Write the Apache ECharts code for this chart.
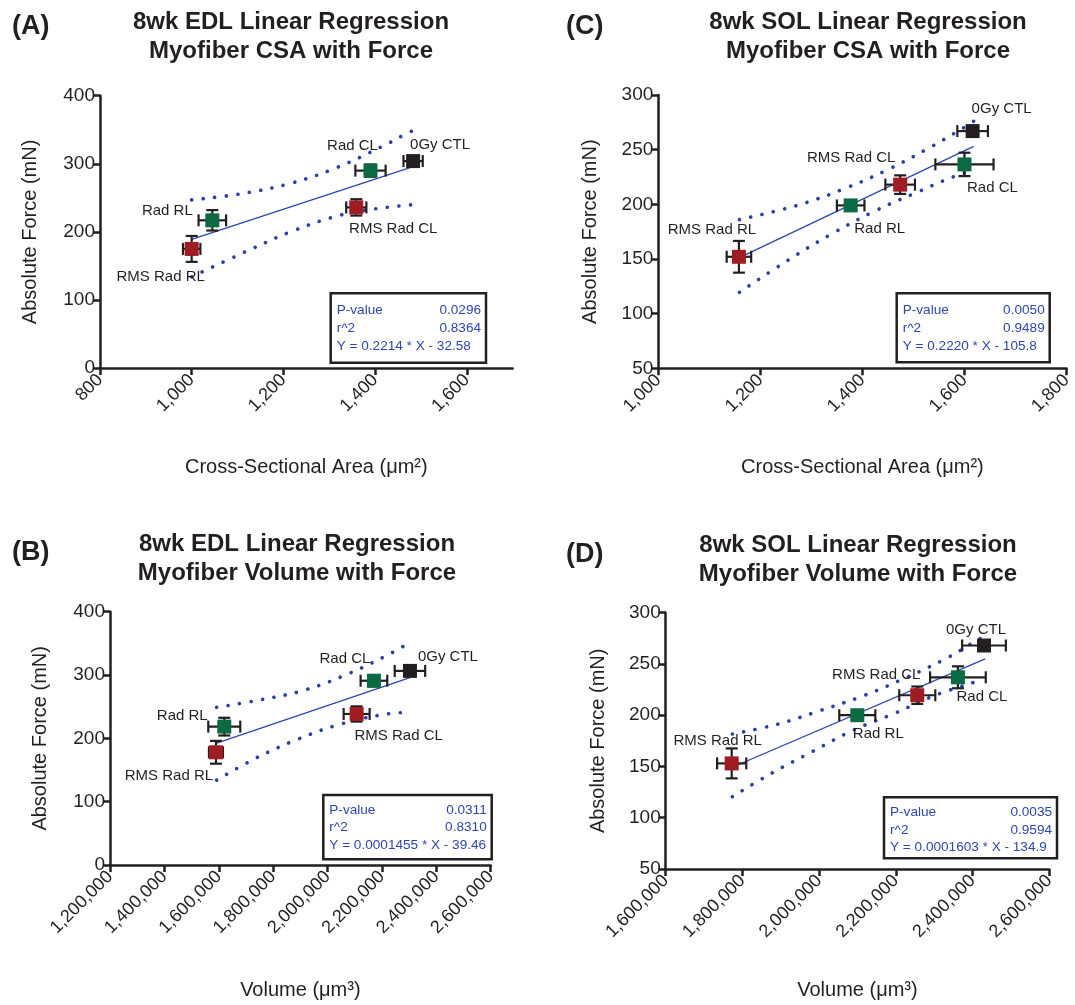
<!DOCTYPE html>
<html lang="en">
<head>
<meta charset="UTF-8">
<title>8wk Linear Regression</title>
<script src="https://cdn.jsdelivr.net/npm/echarts@6/dist/echarts.min.js"></script>
<style>html,body{margin:0;background:#fff}#main{width:1075px;height:1005px}</style>
</head>
<body>
<div id="main"></div>
<script>
// group order used by every panel
var groups = ['RMS Rad RL', 'Rad RL', 'RMS Rad CL', 'Rad CL', '0Gy CTL'];

// (A) EDL, CSA vs force
var edlCsaX = [1000, 1045, 1359, 1390, 1483];
var edlCsaY = [175, 217, 236, 290, 304];
var edlCsaXErr = [19, 30, 22, 33, 21];
var edlCsaYErr = [19, 15, 12, 9, 6];
var edlCsaFitX = [1000, 1483];
var edlCsaFitY = [189, 296];
var edlCsaUpX = [1000, 1107, 1214, 1315, 1414, 1462, 1483];
var edlCsaUpY = [247, 256, 271, 294, 325, 342, 349];
var edlCsaLoX = [1000, 1121, 1219, 1321, 1401, 1483];
var edlCsaLoY = [134, 172, 201, 224, 234, 240];
var edlCsaStats = ['0.0296', '0.8364', 'Y = 0.2214 * X - 32.58'];

// (C) SOL, CSA vs force
var solCsaX = [1158, 1377, 1474, 1600, 1616];
var solCsaY = [152, 199, 218, 236.5, 267];
var solCsaXErr = [24, 27, 29, 57, 30];
var solCsaYErr = [14.5, 3, 8.5, 10.7, 4];
var solCsaFitX = [1158, 1618];
var solCsaFitY = [151, 253];
var solCsaUpX = [1159, 1272, 1363, 1451, 1536, 1598, 1618];
var solCsaUpY = [186, 199, 214, 232, 253, 270, 276];
var solCsaLoX = [1159, 1258, 1340, 1425, 1512, 1577, 1618];
var solCsaLoY = [119.5, 150, 173, 194, 212, 225, 231];
var solCsaStats = ['0.0050', '0.9489', 'Y = 0.2220 * X - 105.8'];

// (B) EDL, volume vs force
var edlVolX = [1589700, 1620200, 2107000, 2170600, 2303000];
var edlVolY = [178, 218.5, 238.5, 291, 306.5];
var edlVolXErr = [25700, 58800, 47800, 49000, 56000];
var edlVolYErr = [18, 14, 12, 9, 7];
var edlVolFitX = [1589700, 2303000];
var edlVolFitY = [192, 296];
var edlVolUpX = [1592300, 1755000, 1918000, 2082000, 2227000, 2300700];
var edlVolUpY = [249, 261, 276.5, 303, 333, 351];
var edlVolLoX = [1592300, 1735700, 1890000, 2048000, 2211000, 2300700];
var edlVolLoY = [134, 168.5, 198.5, 222.5, 238, 241];
var edlVolStats = ['0.0311', '0.8310', 'Y = 0.0001455 * X - 39.46'];

// (D) SOL, volume vs force
var solVolX = [1772100, 2099600, 2256000, 2362000, 2430000];
var solVolY = [153, 200, 219.5, 237, 268];
var solVolXErr = [38000, 47000, 47000, 72600, 57000];
var solVolYErr = [14.6, 3, 8.5, 10.7, 4];
var solVolFitX = [1772100, 2433000];
var solVolFitY = [149, 255];
var solVolUpX = [1773700, 1889400, 2002600, 2115500, 2228700, 2334600, 2411000, 2433000];
var solVolUpY = [181.7, 191, 204.5, 219, 237, 256, 273, 277];
var solVolLoX = [1773700, 1876400, 1982300, 2089300, 2198000, 2306700, 2426000];
var solVolLoY = [120.5, 143.5, 164.5, 185.5, 202, 220, 234.5];
var solVolStats = ['0.0035', '0.9594', 'Y = 0.0001603 * X - 134.9'];

var FONT = '"Liberation Sans", Arial, sans-serif';
var INK = '#231f20';
var BLUE = '#2d46ad';
var markColor = ['#a01c23', '#0b6a42', '#a01c23', '#0b6a42', '#231f20'];

function pairs(xs, ys) {
    return xs.map(function (v, k) { return [v, ys[k]]; });
}
function fmt(v) { return Number(v).toLocaleString('en-US'); }

function errorBars(params, api) {
    var x = api.value(0), y = api.value(1), ex = api.value(2), ey = api.value(3);
    var c = api.coord([x, y]);
    var l = api.coord([x - ex, y])[0], r = api.coord([x + ex, y])[0];
    var t = api.coord([x, y + ey])[1], b = api.coord([x, y - ey])[1];
    var cap = 6;
    var st = {stroke: INK, lineWidth: 2.2, fill: null};
    return {
        type: 'group',
        children: [
            {type: 'line', shape: {x1: l, y1: c[1], x2: r, y2: c[1]}, style: st},
            {type: 'line', shape: {x1: l, y1: c[1] - cap, x2: l, y2: c[1] + cap}, style: st},
            {type: 'line', shape: {x1: r, y1: c[1] - cap, x2: r, y2: c[1] + cap}, style: st},
            {type: 'line', shape: {x1: c[0], y1: t, x2: c[0], y2: b}, style: st},
            {type: 'line', shape: {x1: c[0] - cap, y1: t, x2: c[0] + cap, y2: t}, style: st},
            {type: 'line', shape: {x1: c[0] - cap, y1: b, x2: c[0] + cap, y2: b}, style: st}
        ]
    };
}

var panels = [
    {
        x: edlCsaX, y: edlCsaY, xe: edlCsaXErr, ye: edlCsaYErr,
        fx: edlCsaFitX, fy: edlCsaFitY, ux: edlCsaUpX, uy: edlCsaUpY, lx: edlCsaLoX, ly: edlCsaLoY,
        grid: {left: 100, top: 95.7, width: 412.6, height: 272.4},
        xr: [800, 1700, 200], xTicks: [800, 1000, 1200, 1400, 1600], yr: [0, 400, 100],
        xName: 'Cross-Sectional Area (μm²)', xGap: 89, yGap: 60,
        off: [[-31, 28], [-45, -9], [37, 21], [-18, -25], [27, -16]]
    },
    {
        x: solCsaX, y: solCsaY, xe: solCsaXErr, ye: solCsaYErr,
        fx: solCsaFitX, fy: solCsaFitY, ux: solCsaUpX, uy: solCsaUpY, lx: solCsaLoX, ly: solCsaLoY,
        grid: {left: 658.3, top: 95, width: 411, height: 273.3},
        xr: [1000, 1800, 200], yr: [50, 300, 50],
        xName: 'Cross-Sectional Area (μm²)', xGap: 89, yGap: 58,
        off: [[-27, -27], [29, 23], [-49, -27], [28, 23], [29, -22]]
    },
    {
        x: edlVolX, y: edlVolY, xe: edlVolXErr, ye: edlVolYErr,
        fx: edlVolFitX, fy: edlVolFitY, ux: edlVolUpX, uy: edlVolUpY, lx: edlVolLoX, ly: edlVolLoY,
        grid: {left: 110, top: 611.7, width: 380.7, height: 253.3},
        xr: [1200000, 2600000, 200000], yr: [0, 400, 100],
        xName: 'Volume (μm³)', xGap: 115, yGap: 60,
        off: [[-47, 24], [-42, -11], [42, 22], [-29, -22], [38, -14]]
    },
    {
        x: solVolX, y: solVolY, xe: solVolXErr, ye: solVolYErr,
        fx: solVolFitX, fy: solVolFitY, ux: solVolUpX, uy: solVolUpY, lx: solVolLoX, ly: solVolLoY,
        grid: {left: 665.7, top: 612.7, width: 383.5, height: 256.3},
        xr: [1600000, 2600000, 200000], yr: [50, 300, 50],
        xName: 'Volume (μm³)', xGap: 111, yGap: 57,
        off: [[-14, -23], [21, 19], [-41, -20], [24, 20], [-8, -16]]
    }
];

var grids = [], xAxes = [], yAxes = [], series = [];
panels.forEach(function (p, i) {
    grids.push(p.grid);
    var axisLine = {lineStyle: {color: INK, width: 2.5}};
    var axisTick = {length: 7, lineStyle: {color: INK, width: 2.5}};
    var xa = {
        type: 'value', gridIndex: i, min: p.xr[0], max: p.xr[1], interval: p.xr[2],
        splitLine: {show: false}, axisLine: axisLine, axisTick: Object.assign({}, axisTick),
        axisLabel: {rotate: 45, color: INK, fontSize: 18, fontFamily: FONT, margin: 9, formatter: fmt},
        name: p.xName, nameLocation: 'middle', nameGap: p.xGap,
        nameTextStyle: {color: INK, fontSize: 20, fontFamily: FONT}
    };
    if (p.xTicks) {
        xa.axisTick.customValues = p.xTicks;
        xa.axisLabel.customValues = p.xTicks;
    }
    xAxes.push(xa);
    yAxes.push({
        type: 'value', gridIndex: i, min: p.yr[0], max: p.yr[1], interval: p.yr[2],
        splitLine: {show: false}, axisLine: axisLine, axisTick: axisTick,
        axisLabel: {color: INK, fontSize: 19, fontFamily: FONT, margin: 5},
        name: 'Absolute Force (mN)', nameLocation: 'middle', nameGap: p.yGap, nameRotate: 90,
        nameTextStyle: {color: INK, fontSize: 20, fontFamily: FONT}
    });
    var dotted = {color: '#2a3fa6', width: 3.6, type: [0.1, 11.5], cap: 'round'};
    series.push({
        type: 'line', xAxisIndex: i, yAxisIndex: i, data: pairs(p.ux, p.uy),
        smooth: 0.4, symbol: 'none', lineStyle: dotted, z: 1, silent: true
    });
    series.push({
        type: 'line', xAxisIndex: i, yAxisIndex: i, data: pairs(p.lx, p.ly),
        smooth: 0.4, symbol: 'none', lineStyle: dotted, z: 1, silent: true
    });
    series.push({
        type: 'line', xAxisIndex: i, yAxisIndex: i, data: pairs(p.fx, p.fy),
        symbol: 'none', lineStyle: {color: BLUE, width: 1.3}, z: 1, silent: true
    });
    series.push({
        type: 'custom', xAxisIndex: i, yAxisIndex: i, renderItem: errorBars, z: 2,
        data: p.x.map(function (v, k) { return [v, p.y[k], p.xe[k], p.ye[k]]; })
    });
    series.push({
        type: 'scatter', xAxisIndex: i, yAxisIndex: i, symbol: 'rect', symbolSize: 14, z: 3,
        data: p.x.map(function (v, k) {
            return {
                value: [v, p.y[k]], name: groups[k],
                itemStyle: {color: markColor[k], opacity: 1},
                label: {offset: p.off[k]}
            };
        }),
        label: {
            show: true, position: 'inside', formatter: '{b}', color: INK,
            fontSize: 15, fontFamily: FONT
        }
    });
});

function textEl(x, y, text, size, bold, align, color, lh) {
    return {
        type: 'text', x: x, y: y, z: 10,
        style: {
            text: text, fill: color || INK, align: align || 'left', verticalAlign: lh ? 'top' : 'middle',
            font: (bold ? 'bold ' : '') + size + 'px ' + FONT, lineHeight: lh || undefined
        }
    };
}

function statsBox(l, t, w, h, rows, stats) {
    var out = [{
        type: 'rect', z: 9, shape: {x: l, y: t, width: w, height: h},
        style: {fill: '#fff', stroke: INK, lineWidth: 2.5}
    }];
    var labels = ['P-value', 'r^2'];
    var fs = 13.6;
    out.push(textEl(l + 6, rows[0], labels[0], fs, false, 'left', BLUE));
    out.push(textEl(l + w - 5, rows[0], stats[0], fs, false, 'right', BLUE));
    out.push(textEl(l + 6, rows[1], labels[1], fs, false, 'left', BLUE));
    out.push(textEl(l + w - 5, rows[1], stats[1], fs, false, 'right', BLUE));
    out.push(textEl(l + 6, rows[2], stats[2], fs, false, 'left', BLUE));
    return out;
}

var graphics = [
    textEl(12, 27, '(A)', 27, true),
    textEl(566, 27, '(C)', 27, true),
    textEl(12, 553, '(B)', 27, true),
    textEl(566, 555, '(D)', 27, true),
    textEl(291, 8, '8wk EDL Linear Regression\nMyofiber CSA with Force', 24, true, 'center', INK, 29),
    textEl(868, 8, '8wk SOL Linear Regression\nMyofiber CSA with Force', 24, true, 'center', INK, 29),
    textEl(297, 530, '8wk EDL Linear Regression\nMyofiber Volume with Force', 24, true, 'center', INK, 29),
    textEl(858, 531, '8wk SOL Linear Regression\nMyofiber Volume with Force', 24, true, 'center', INK, 29)
];
graphics = graphics
    .concat(statsBox(330.7, 293.3, 155.3, 69.4, [310, 328.3, 346.7], edlCsaStats))
    .concat(statsBox(896.7, 293.3, 153, 69, [310, 328.3, 346.7], solCsaStats))
    .concat(statsBox(323.3, 795, 168.4, 64.3, [810, 827.3, 845], edlVolStats))
    .concat(statsBox(884, 797.3, 173, 61, [812.3, 830, 847.7], solVolStats));

var myChart = echarts.init(document.getElementById('main'));
myChart.setOption({
    animation: false,
    textStyle: {fontFamily: FONT},
    grid: grids,
    xAxis: xAxes,
    yAxis: yAxes,
    series: series,
    graphic: graphics
});
</script>
</body>
</html>
